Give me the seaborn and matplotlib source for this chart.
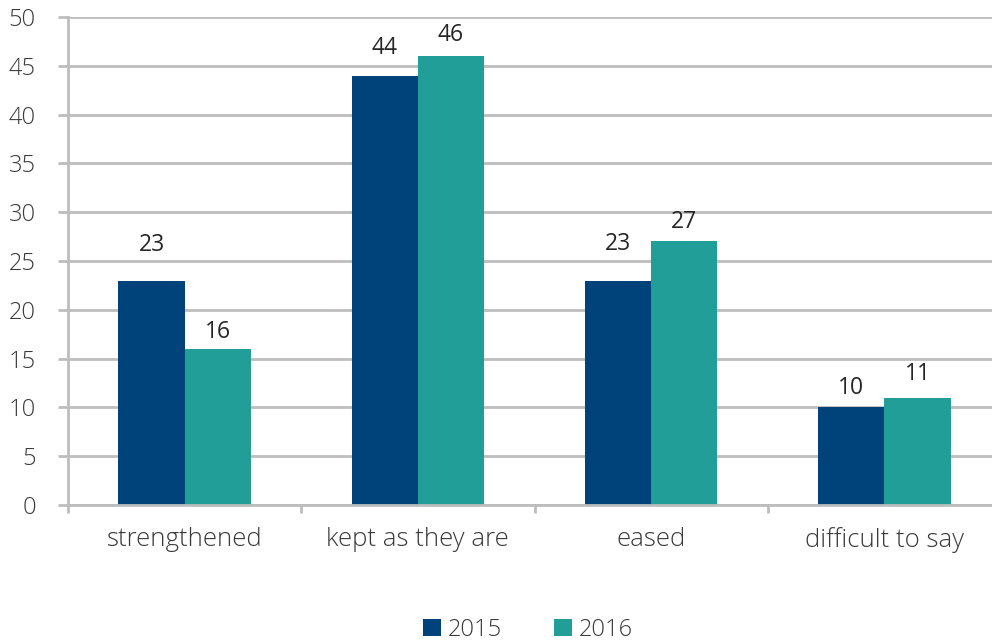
import matplotlib
matplotlib.use("Agg")
import matplotlib.pyplot as plt
import seaborn as sns
import pandas as pd
from matplotlib.patches import Patch
from matplotlib.ticker import FixedLocator

categories = ["strengthened", "kept as they are", "eased", "difficult to say"]
years = ["2015", "2016"]
values_2015 = [23, 44, 23, 10]
values_2016 = [16, 46, 27, 11]
yticks = [0, 5, 10, 15, 20, 25, 30, 35, 40, 45, 50]
# vertical gap (px) between bar top and its label, as in the reference
label_gaps_2015 = [26, 18, 27, 10]
label_gaps_2016 = [8, 12, 10, 14]

df = pd.DataFrame({
    "category": categories * 2,
    "year": [years[0]] * 4 + [years[1]] * 4,
    "value": values_2015 + values_2016,
})

sns.set_theme(style="white")
plt.rcParams["font.family"] = ["Open Sans", "DejaVu Sans"]
plt.rcParams["font.weight"] = "light"

colors = {"2015": "#00427A", "2016": "#219E98"}
grid_c = "#BDBDBD"
text_c = "#3A3A3A"

fig = plt.figure(figsize=(9.92, 6.42), dpi=100)
ax = fig.add_axes([68 / 992, 1 - 505 / 642, 933 / 992, (505 - 17) / 642])

sns.barplot(data=df, x="category", y="value", hue="year", order=categories,
            hue_order=years, palette=colors, width=0.567, saturation=1,
            linewidth=0, ax=ax, legend=False)

ax.set_xlim(-0.5, 3.5)
ax.set_ylim(0, 50)
ax.set_yticks(yticks)
ax.yaxis.grid(True, color=grid_c, linewidth=2)
ax.set_axisbelow(True)
for s in ["top", "right"]:
    ax.spines[s].set_visible(False)
for s in ["left", "bottom"]:
    ax.spines[s].set_color(grid_c)
    ax.spines[s].set_linewidth(2)

ax.set_xlabel("")
ax.set_ylabel("")
ax.tick_params(axis="y", length=7.2, width=2, color=grid_c, labelsize=17,
               labelcolor=text_c, pad=16, left=True)
ax.tick_params(axis="x", which="major", length=0, labelsize=18.5,
               labelcolor=text_c, pad=16)
ax.xaxis.set_minor_locator(FixedLocator([-0.5, 0.5, 1.5, 2.5, 3.5]))
ax.tick_params(axis="x", which="minor", length=5.5, width=2, color=grid_c,
               bottom=True, direction="out")

for cont, gaps in zip(ax.containers, [label_gaps_2015, label_gaps_2016]):
    for bar, g in zip(cont, gaps):
        h = bar.get_height()
        ax.annotate(f"{h:.0f}", (bar.get_x() + bar.get_width() / 2, h),
                    xytext=(0, g * 0.72 - 2), textcoords="offset points",
                    ha="center", va="bottom", fontsize=16.5, color="#262626",
                    fontweight="normal")

handles = [Patch(facecolor=colors[y], edgecolor="none", label=y) for y in years]
fig.legend(handles=handles, loc="center", bbox_to_anchor=(528 / 992, 1 - 630 / 642),
           ncol=2, frameon=False, fontsize=17, handlelength=0.75, handleheight=0.75,
           handletextpad=0.3, columnspacing=2.2, labelcolor=text_c)

fig.savefig("out.png", dpi=100)
